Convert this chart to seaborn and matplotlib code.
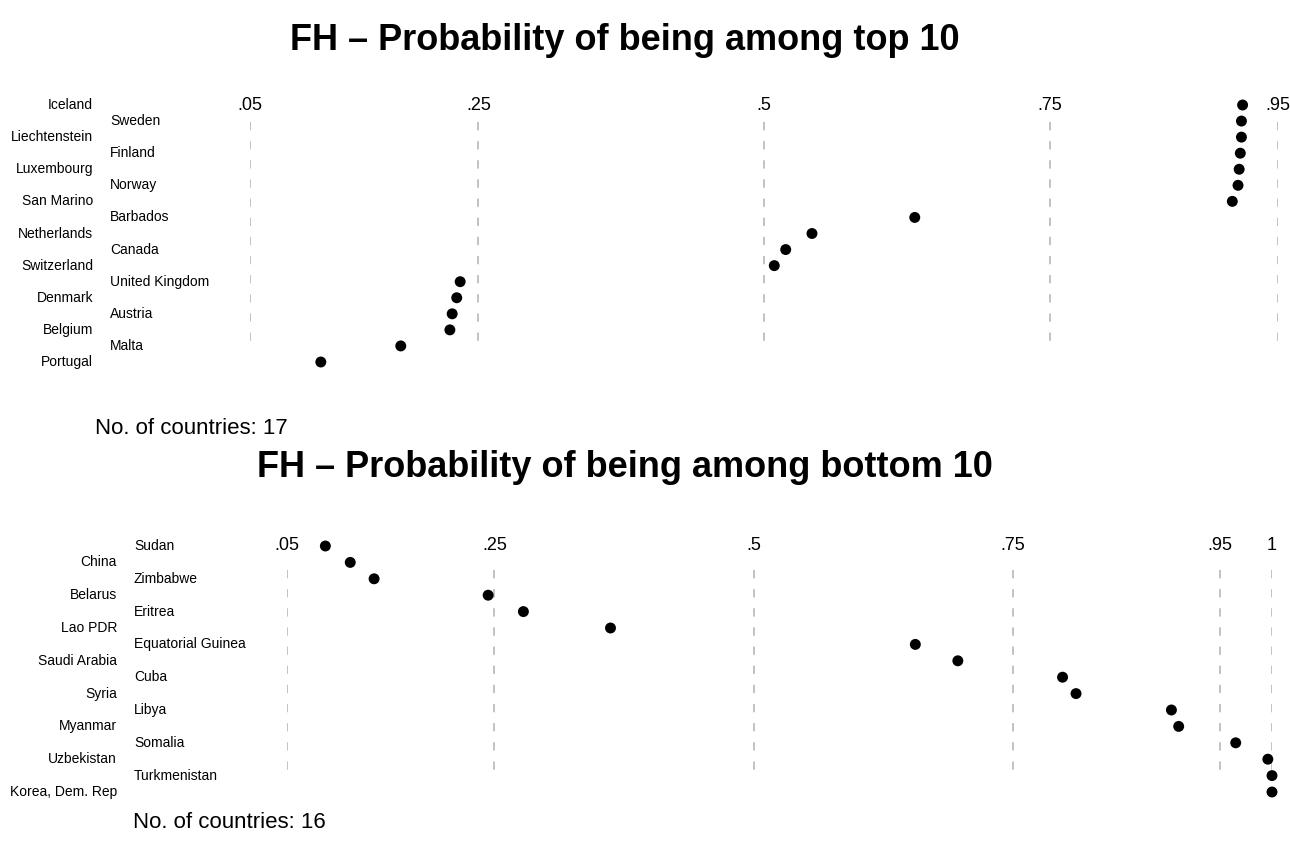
import matplotlib as mpl
mpl.use("Agg")
import matplotlib.pyplot as plt
import matplotlib.transforms as mtransforms
import pandas as pd
import seaborn as sns

# data
top_countries = ["Iceland", "Sweden", "Liechtenstein", "Finland", "Luxembourg", "Norway",
                 "San Marino", "Barbados", "Netherlands", "Canada", "Switzerland",
                 "United Kingdom", "Denmark", "Austria", "Belgium", "Malta", "Portugal"]
top_probs = [0.919, 0.918, 0.918, 0.917, 0.916, 0.915, 0.910, 0.632, 0.542, 0.519, 0.509,
             0.234, 0.231, 0.227, 0.225, 0.182, 0.112]
top_ticks = [0.05, 0.25, 0.5, 0.75, 0.95]
top_ticklabels = [".05", ".25", ".5", ".75", ".95"]

bottom_countries = ["Sudan", "China", "Zimbabwe", "Belarus", "Eritrea", "Lao PDR",
                    "Equatorial Guinea", "Saudi Arabia", "Cuba", "Syria", "Libya", "Myanmar",
                    "Somalia", "Uzbekistan", "Turkmenistan", "Korea, Dem. Rep"]
bottom_probs = [0.087, 0.111, 0.134, 0.244, 0.278, 0.362, 0.656, 0.697, 0.798, 0.811,
                0.903, 0.910, 0.965, 0.996, 1.0, 1.0]
bottom_ticks = [0.05, 0.25, 0.5, 0.75, 0.95, 1.0]
bottom_ticklabels = [".05", ".25", ".5", ".75", ".95", "1"]

sns.set_style("white")
plt.rcParams['font.family'] = ['Liberation Sans', 'DejaVu Sans']
plt.rcParams['text.color'] = 'black'

W, H = 1290, 864
fig = plt.figure(figsize=(W / 100, H / 100), dpi=100)


def px_axes(x0, x1, ytop, ybot):
    return fig.add_axes([x0 / W, 1 - ybot / H, (x1 - x0) / W, (ybot - ytop) / H])


def panel(ax, countries, probs, ticks, ticklabels, xlim, grid_span, left_x, right_x):
    n = len(countries)
    df = pd.DataFrame({"country": countries, "prob": probs, "row": range(n)})
    ax.set_xlim(*xlim)
    ax.set_ylim(n - 0.5, -0.5)
    ax.vlines(ticks, grid_span[0], grid_span[1], colors="#bdbdbd", lw=1.3,
              linestyles=(0, (4.6, 6.0)), zorder=1)
    sns.scatterplot(data=df, x="prob", y="row", ax=ax, color="black", s=62,
                    edgecolor="none", clip_on=False, zorder=3, legend=False)
    for t, lab in zip(ticks, ticklabels):
        ax.text(t, 0, lab, ha="center", va="center", fontsize=13)
    trans = mtransforms.blended_transform_factory(fig.transFigure, ax.transData)
    for i, c in enumerate(countries):
        if (n - 1 - i) % 2 == 0:
            ax.text(left_x / W, i, c, ha="right", va="center", fontsize=10, transform=trans)
        else:
            ax.text(right_x / W, i, c, ha="left", va="center", fontsize=10, transform=trans)
    ax.axis("off")


# top panel: .05 -> 250 px, .95 -> 1278 px; rows 105..362 px
ax1 = px_axes(250, 1278, 105 - 8.03, 362 + 8.03)
panel(ax1, top_countries, top_probs, top_ticks, top_ticklabels, (0.05, 0.95),
      (1.05, 15.2), 93, 110)

# bottom panel: .05 -> 287 px, 1 -> 1272 px; rows 546..792 px
ax2 = px_axes(287, 1272, 546 - 8.2, 792 + 8.2)
panel(ax2, bottom_countries, bottom_probs, bottom_ticks, bottom_ticklabels, (0.05, 1.0),
      (1.45, 14.05), 117, 134)

fig.text(625 / W, 1 - 40 / H, "FH \u2013 Probability of being among top 10",
         ha="center", va="center", fontsize=26, fontweight="bold")
fig.text(625 / W, 1 - 467 / H, "FH \u2013 Probability of being among bottom 10",
         ha="center", va="center", fontsize=26, fontweight="bold")
fig.text(95 / W, 1 - 428 / H, "No. of countries: 17", ha="left", va="center", fontsize=16)
fig.text(133 / W, 1 - 822 / H, "No. of countries: 16", ha="left", va="center", fontsize=16)

plt.savefig("out.png", dpi=100)
plt.close()
